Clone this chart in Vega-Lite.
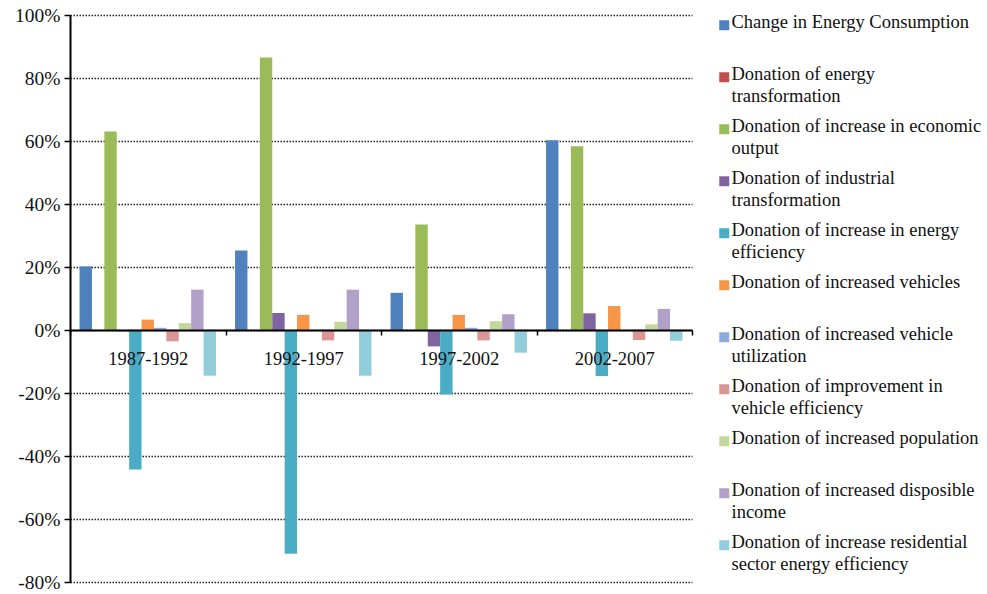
{
  "$schema": "https://vega.github.io/schema/vega-lite/v6.json",
  "autosize": "none",
  "width": 622,
  "height": 567,
  "padding": {"left": 70, "top": 15, "right": 295, "bottom": 12},
  "background": "white",
  "datasets": {
    "rows": [
      {"period": "1987-1992", "series": "Change in Energy Consumption", "value": 20.2},
      {"period": "1987-1992", "series": "Donation of energy transformation", "value": -0.2},
      {"period": "1987-1992", "series": "Donation of increase in economic output", "value": 63},
      {"period": "1987-1992", "series": "Donation of industrial transformation", "value": -0.4},
      {"period": "1987-1992", "series": "Donation of increase in energy efficiency", "value": -44.3},
      {"period": "1987-1992", "series": "Donation of increased vehicles", "value": 3.3},
      {"period": "1987-1992", "series": "Donation of increased vehicle utilization", "value": 0.7},
      {"period": "1987-1992", "series": "Donation of improvement in vehicle efficiency", "value": -3.6},
      {"period": "1987-1992", "series": "Donation of increased population", "value": 2.2},
      {"period": "1987-1992", "series": "Donation of increased disposible income", "value": 12.8},
      {"period": "1987-1992", "series": "Donation of increase residential sector energy efficiency", "value": -14.5},
      {"period": "1992-1997", "series": "Change in Energy Consumption", "value": 25.2},
      {"period": "1992-1997", "series": "Donation of energy transformation", "value": 0},
      {"period": "1992-1997", "series": "Donation of increase in economic output", "value": 86.5},
      {"period": "1992-1997", "series": "Donation of industrial transformation", "value": 5.4},
      {"period": "1992-1997", "series": "Donation of increase in energy efficiency", "value": -71},
      {"period": "1992-1997", "series": "Donation of increased vehicles", "value": 4.8},
      {"period": "1992-1997", "series": "Donation of increased vehicle utilization", "value": 0},
      {"period": "1992-1997", "series": "Donation of improvement in vehicle efficiency", "value": -3.3},
      {"period": "1992-1997", "series": "Donation of increased population", "value": 2.6},
      {"period": "1992-1997", "series": "Donation of increased disposible income", "value": 12.8},
      {"period": "1992-1997", "series": "Donation of increase residential sector energy efficiency", "value": -14.5},
      {"period": "1997-2002", "series": "Change in Energy Consumption", "value": 11.8},
      {"period": "1997-2002", "series": "Donation of energy transformation", "value": 0},
      {"period": "1997-2002", "series": "Donation of increase in economic output", "value": 33.5},
      {"period": "1997-2002", "series": "Donation of industrial transformation", "value": -5.2},
      {"period": "1997-2002", "series": "Donation of increase in energy efficiency", "value": -20.5},
      {"period": "1997-2002", "series": "Donation of increased vehicles", "value": 4.8},
      {"period": "1997-2002", "series": "Donation of increased vehicle utilization", "value": 0.7},
      {"period": "1997-2002", "series": "Donation of improvement in vehicle efficiency", "value": -3.3},
      {"period": "1997-2002", "series": "Donation of increased population", "value": 2.8},
      {"period": "1997-2002", "series": "Donation of increased disposible income", "value": 5.0},
      {"period": "1997-2002", "series": "Donation of increase residential sector energy efficiency", "value": -7.2},
      {"period": "2002-2007", "series": "Change in Energy Consumption", "value": 60.2},
      {"period": "2002-2007", "series": "Donation of energy transformation", "value": 0},
      {"period": "2002-2007", "series": "Donation of increase in economic output", "value": 58.3},
      {"period": "2002-2007", "series": "Donation of industrial transformation", "value": 5.3},
      {"period": "2002-2007", "series": "Donation of increase in energy efficiency", "value": -14.6},
      {"period": "2002-2007", "series": "Donation of increased vehicles", "value": 7.6},
      {"period": "2002-2007", "series": "Donation of increased vehicle utilization", "value": 0},
      {"period": "2002-2007", "series": "Donation of improvement in vehicle efficiency", "value": -3.2},
      {"period": "2002-2007", "series": "Donation of increased population", "value": 1.8},
      {"period": "2002-2007", "series": "Donation of increased disposible income", "value": 6.7},
      {"period": "2002-2007", "series": "Donation of increase residential sector energy efficiency", "value": -3.4}
    ]
  },
  "data": {"name": "rows"},
  "mark": {"type": "bar", "cornerRadius": 0},
  "encoding": {
    "x": {
      "field": "period",
      "type": "nominal",
      "sort": null,
      "scale": {"paddingInner": 0, "paddingOuter": 0},
      "axis": {
        "title": null,
        "labelAngle": 0,
        "offset": -252,
        "tickBand": "extent",
        "domainColor": "#000",
        "domainWidth": 2,
        "tickColor": "#000",
        "tickWidth": 1.5,
        "tickSize": 5,
        "labelPadding": 14,
        "labelFont": "Liberation Serif",
        "labelFontSize": 18.5,
        "labelColor": "#111",
        "zindex": 2
      }
    },
    "xOffset": {
      "field": "series",
      "type": "nominal",
      "sort": null,
      "scale": {"paddingInner": 0, "paddingOuter": 0.77}
    },
    "y": {
      "field": "value",
      "type": "quantitative",
      "scale": {"domain": [-80, 100], "nice": false, "zero": true},
      "axis": {
        "title": null,
        "values": [-80, -60, -40, -20, 0, 20, 40, 60, 80, 100],
        "labelExpr": "datum.value + '%'",
        "grid": true,
        "gridColor": "#222",
        "gridDash": [1.5, 1.5],
        "gridWidth": 1.5,
        "domainColor": "#000",
        "domainWidth": 2,
        "tickColor": "#000",
        "tickWidth": 1.5,
        "tickSize": 6,
        "labelPadding": 4,
        "labelFont": "Liberation Serif",
        "labelFontSize": 19.5,
        "labelColor": "#111"
      }
    },
    "color": {
      "field": "series",
      "type": "nominal",
      "scale": {
        "domain": [
          "Change in Energy Consumption",
          "Donation of energy transformation",
          "Donation of increase in economic output",
          "Donation of industrial transformation",
          "Donation of increase in energy efficiency",
          "Donation of increased vehicles",
          "Donation of increased vehicle utilization",
          "Donation of improvement in vehicle efficiency",
          "Donation of increased population",
          "Donation of increased disposible income",
          "Donation of increase residential sector energy efficiency"
        ],
        "range": ["#4F81BD", "#C0504D", "#9BBB59", "#8064A2", "#4BACC6", "#F79646", "#8EA9DB", "#DA9694", "#C4D79B", "#B1A0C7", "#92CDDC"]
      },
      "legend": {
        "title": null,
        "orient": "none",
        "legendX": 645,
        "legendY": -11,
        "padding": 0,
        "symbolType": "M-1,1.4H1V3.4H-1Z",
        "symbolSize": 100,
        "symbolStrokeWidth": 0,
        "labelFont": "Liberation Serif",
        "labelFontSize": 18.5,
        "labelColor": "#111",
        "labelLimit": 300,
        "labelBaseline": "top",
        "labelOffset": -2,
        "rowPadding": 2,
        "labelExpr": "datum.label == 'Donation of energy transformation' ? ['Donation of energy', 'transformation'] : datum.label == 'Donation of increase in economic output' ? ['Donation of increase in economic', 'output'] : datum.label == 'Donation of industrial transformation' ? ['Donation of industrial', 'transformation'] : datum.label == 'Donation of increase in energy efficiency' ? ['Donation of increase in energy', 'efficiency'] : datum.label == 'Donation of increased vehicle utilization' ? ['Donation of increased vehicle', 'utilization'] : datum.label == 'Donation of improvement in vehicle efficiency' ? ['Donation of improvement in', 'vehicle efficiency'] : datum.label == 'Donation of increased disposible income' ? ['Donation of increased disposible', 'income'] : datum.label == 'Donation of increase residential sector energy efficiency' ? ['Donation of increase residential', 'sector energy efficiency'] : [datum.label, ' ']"
      }
    }
  },
  "config": {
    "view": {"stroke": null},
    "style": {"guide-label": {"lineHeight": 22}}
  }
}
